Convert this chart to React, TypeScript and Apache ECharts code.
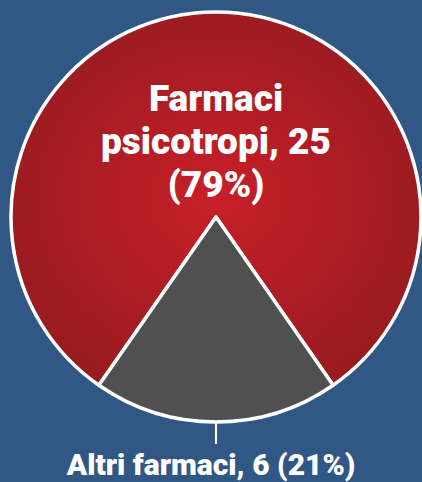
import React, { useEffect, useRef } from "react";
import * as echarts from "echarts";

const categories = ["Farmaci psicotropi", "Altri farmaci"];
const values = [25, 6];
const percentLabels = ["79%", "21%"];

export default function App() {
  const ref = useRef<HTMLDivElement>(null);
  useEffect(() => {
    document.body.style.margin = "0";
    const chart = echarts.init(ref.current!, null, { renderer: "svg" });
    const redGradient = new echarts.graphic.RadialGradient(0.5, 0.5, 0.55, [
      { offset: 0, color: "#c81f29" },
      { offset: 1, color: "#981b20" },
    ]);
    chart.setOption({
      animation: false,
      backgroundColor: "#315884",
      series: [
        {
          type: "pie",
          center: [216, 217],
          radius: [0, 205],
          startAngle: 235.16,
          clockwise: true,
          data: categories.map((name, i) => ({
            name,
            value: values[i],
            itemStyle: {
              color: i === 0 ? redGradient : "#505050",
              borderColor: "#ffffff",
              borderWidth: 3.5,
            },
            label:
              i === 0
                ? {
                    position: "inside",
                    formatter: "Farmaci\npsicotropi, {c}\n(" + percentLabels[0] + ")",
                    color: "#ffffff",
                    fontFamily: "Roboto",
                    fontWeight: 900,
                    fontSize: 37,
                    lineHeight: 43,
                    offset: [0, 30],
                  }
                : {
                    position: "outside",
                    formatter: "{b}, {c} (" + percentLabels[1] + ")",
                    color: "#ffffff",
                    fontFamily: "Roboto",
                    fontWeight: 900,
                    fontSize: 30,
                    overflow: "none",
                    width: 400,
                  },
            labelLine:
              i === 0
                ? { show: false }
                : { show: true, length: 22, length2: 0, lineStyle: { color: "#ffffff", width: 2 } },
          })),
          labelLayout: (p: any) =>
            p.dataIndex === 1 ? { align: "center", verticalAlign: "top", dy: 5 } : {},
        },
      ],
    });
    return () => chart.dispose();
  }, []);
  return <div ref={ref} style={{ position: "fixed", left: 0, top: 0, width: 422, height: 482 }} />;
}
